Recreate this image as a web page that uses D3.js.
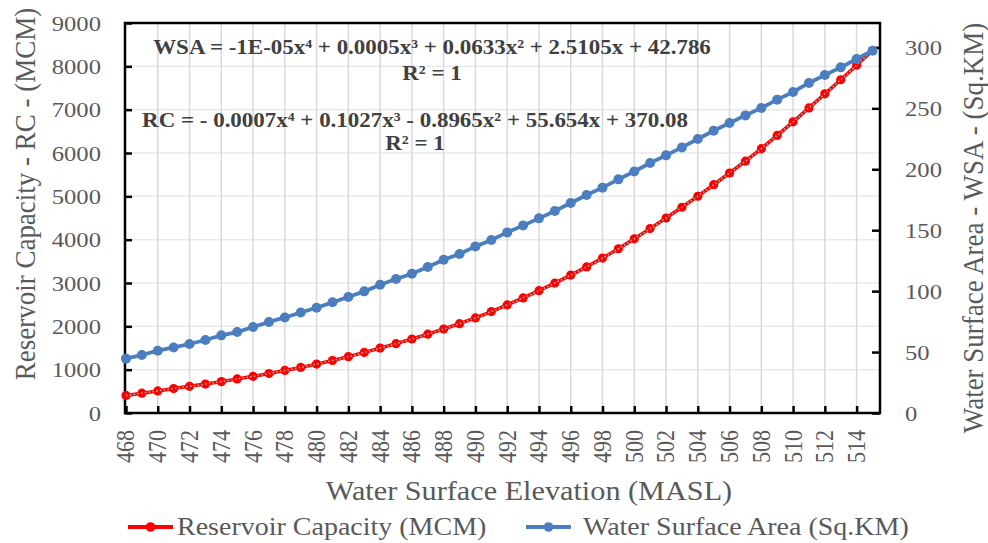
<!DOCTYPE html>
<html>
<head>
<meta charset="utf-8">
<script src="https://cdn.jsdelivr.net/npm/d3@7"></script>
<style>
  html, body { margin: 0; padding: 0; background: #fff; }
  svg { display: block; }
  text { font-family: "Liberation Serif", "Times New Roman", serif; }
</style>
</head>
<body>
<svg id="chart" width="988" height="543"></svg>
<script>
// Water surface elevation (MASL), one point per metre
const elevations = [468,469,470,471,472,473,474,475,476,477,478,479,480,481,482,483,
  484,485,486,487,488,489,490,491,492,493,494,495,496,497,498,499,
  500,501,502,503,504,505,506,507,508,509,510,511,512,513,514,515];

// Reservoir capacity (MCM), left axis
const reservoirCapacity = [406,458,510,563,615,668,724,786,846,912,982,1052,1128,1212,1300,1398,
  1498,1600,1708,1820,1938,2062,2195,2340,2495,2655,2822,2998,3182,3372,3575,3790,
  4020,4255,4500,4748,5002,5268,5538,5812,6100,6405,6720,7040,7365,7690,8025,8365];

// Water surface area (Sq.KM), right axis
const waterSurfaceArea = [44.6,47.6,51.1,53.8,56.6,59.9,63.7,66.4,70.6,74.7,78.4,82.5,86.4,90.8,95.2,99.8,
  105.3,109.9,114.3,119.8,125.8,130.5,136.7,141.9,148.2,153.9,159.7,165.7,172.3,178.9,184.9,191.7,
  198.2,205.1,211.4,217.9,224.8,231.6,237.9,244.2,250.3,257.1,263.4,270.8,277.3,283.6,290.5,297.3];

const leftTicks = [0,1000,2000,3000,4000,5000,6000,7000,8000,9000];
const rightTicks = [0,50,100,150,200,250,300];
const xTickLabels = [468,470,472,474,476,478,480,482,484,486,488,490,492,494,496,498,
  500,502,504,506,508,510,512,514];

const trendEquations = [
  { text: "WSA = -1E-05x\u2074 + 0.0005x\u00B3 + 0.0633x\u00B2 + 2.5105x + 42.786", r2: "R\u00B2 = 1" },
  { text: "RC = - 0.0007x\u2074 + 0.1027x\u00B3 - 0.8965x\u00B2 + 55.654x + 370.08", r2: "R\u00B2 = 1" }
];

const legendItems = ["Reservoir Capacity (MCM)", "Water Surface Area (Sq.KM)"];

// ---- layout ----
const SX = 1.12;               // horizontal stretch of the type face
const plot = { left: 125, right: 880, top: 23, bottom: 413 };
const RED = "#FF0000", BLUE = "#4A7EBF", GREY_TXT = "#595959";

const svg = d3.select("#chart");

const x = d3.scalePoint().domain(elevations).range([126, 872.5]);
const yL = d3.scaleLinear().domain([0, 9000]).range([plot.bottom, plot.top]);
const yR = d3.scaleLinear().domain([0, 320]).range([plot.bottom, plot.top]);

function stext(g, px, py, str, o) {
  const t = g.append("text")
    .attr("transform", `translate(${px},${py}) scale(${SX},1)` + (o.rotate ? ` rotate(${o.rotate})` : ""))
    .attr("text-anchor", o.anchor || "start")
    .attr("font-size", o.size)
    .attr("fill", o.fill || GREY_TXT)
    .text(str);
  if (o.baseline) t.attr("dominant-baseline", o.baseline);
  if (o.weight) t.attr("font-weight", o.weight);
  return t;
}

// gridlines
const grid = svg.append("g");
grid.selectAll("line.h").data(leftTicks.slice(1, -1)).join("line")
  .attr("x1", plot.left).attr("x2", plot.right)
  .attr("y1", d => yL(d)).attr("y2", d => yL(d))
  .attr("stroke", "#E9E9E9").attr("stroke-width", 1.5);
grid.selectAll("line.v").data(xTickLabels.slice(1)).join("line")
  .attr("x1", d => x(d)).attr("x2", d => x(d))
  .attr("y1", plot.top).attr("y2", plot.bottom)
  .attr("stroke", "#D9D9D9").attr("stroke-width", 1.5);

// axes with inward ticks
const ax = svg.append("g");
ax.append("g").attr("transform", `translate(${plot.left},0)`)
  .call(d3.axisLeft(yL).tickValues(leftTicks).tickSize(-7).tickFormat(""))
  .call(g => g.select(".domain").remove());
ax.append("g").attr("transform", `translate(${plot.right},0)`)
  .call(d3.axisRight(yR).tickValues(rightTicks).tickSize(-8).tickFormat(""))
  .call(g => g.select(".domain").remove());
ax.append("g").attr("transform", `translate(0,${plot.bottom})`)
  .call(d3.axisBottom(x).tickValues(xTickLabels).tickSize(-7).tickFormat(""))
  .call(g => g.select(".domain").remove());
ax.selectAll(".tick line").attr("stroke", "#000").attr("stroke-width", 2.5);

// frame
svg.append("rect")
  .attr("x", plot.left).attr("y", plot.top)
  .attr("width", plot.right - plot.left).attr("height", plot.bottom - plot.top)
  .attr("fill", "none").attr("stroke", "#000").attr("stroke-width", 2.5);

// tick labels
const lab = svg.append("g");
leftTicks.forEach(v => stext(lab, 101, yL(v), v, { size: 22, anchor: "end", baseline: "central" }));
rightTicks.forEach(v => stext(lab, 905, yR(v), v, { size: 22, anchor: "start", baseline: "central" }));
xTickLabels.forEach(v => stext(lab, x(v), 430, v, { size: 22, anchor: "end", baseline: "central", rotate: -90 }));

// axis titles
stext(lab, 24, 194, "Reservoir Capacity - RC - (MCM)", { size: 27, anchor: "middle", baseline: "central", rotate: -90 });
stext(lab, 972, 228, "Water Surface Area - WSA - (Sq.KM)", { size: 27, anchor: "middle", baseline: "central", rotate: -90 });
stext(lab, 529, 500, "Water Surface Elevation (MASL)", { size: 27, anchor: "middle" });

// series
const rcData = elevations.map((e, i) => [e, reservoirCapacity[i]]);
const wsaData = elevations.map((e, i) => [e, waterSurfaceArea[i]]);
const rcLine = d3.line().x(d => x(d[0])).y(d => yL(d[1]));
const wsaLine = d3.line().x(d => x(d[0])).y(d => yR(d[1]));

const series = svg.append("g");
series.append("path").datum(rcData).attr("d", rcLine)
  .attr("fill", "none").attr("stroke", RED).attr("stroke-width", 3.5);
series.selectAll("circle.rc").data(rcData).join("circle")
  .attr("cx", d => x(d[0])).attr("cy", d => yL(d[1])).attr("r", 4.6).attr("fill", RED);
// polynomial trendline of the capacity series (dotted grey)
series.append("path").datum(rcData).attr("d", rcLine.curve(d3.curveMonotoneX))
  .attr("fill", "none").attr("stroke", "#A6A6A6").attr("stroke-width", 1.6)
  .attr("stroke-dasharray", "1.6,2.2");

series.append("path").datum(wsaData).attr("d", wsaLine)
  .attr("fill", "none").attr("stroke", BLUE).attr("stroke-width", 3.8);
series.selectAll("circle.wsa").data(wsaData).join("circle")
  .attr("cx", d => x(d[0])).attr("cy", d => yR(d[1])).attr("r", 5).attr("fill", BLUE);

// trendline equations
const eq = svg.append("g");
stext(eq, 432, 54, trendEquations[0].text, { size: 20.5, anchor: "middle", weight: "bold", fill: "#404040" });
stext(eq, 432, 80, trendEquations[0].r2, { size: 20.5, anchor: "middle", weight: "bold", fill: "#404040" });
stext(eq, 415, 127, trendEquations[1].text, { size: 20.5, anchor: "middle", weight: "bold", fill: "#404040" });
stext(eq, 415, 150, trendEquations[1].r2, { size: 20.5, anchor: "middle", weight: "bold", fill: "#404040" });

// legend
const lg = svg.append("g");
[[128, 177, RED, legendItems[0]], [526, 583, BLUE, legendItems[1]]].forEach(([lx, tx, c, label]) => {
  lg.append("line").attr("x1", lx).attr("x2", lx + 45).attr("y1", 527).attr("y2", 527)
    .attr("stroke", c).attr("stroke-width", 3.8);
  lg.append("circle").attr("cx", lx + 22.5).attr("cy", 527).attr("r", 4.8).attr("fill", c);
  stext(lg, tx, 535, label, { size: 25, anchor: "start" });
});
</script>
</body>
</html>
